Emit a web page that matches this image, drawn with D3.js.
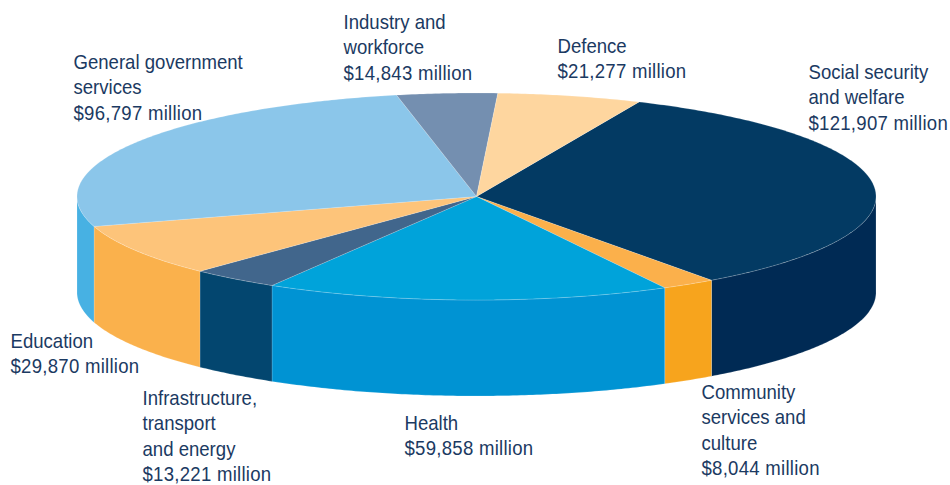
<!DOCTYPE html>
<html>
<head>
<meta charset="utf-8">
<script src="https://d3js.org/d3.v7.min.js"></script>
<style>
  html, body { margin: 0; padding: 0; background: #fff; }
  svg { display: block; }
  .label { font-family: "Liberation Sans", sans-serif; font-size: 21px; fill: #1b3a62; }
  .amount { letter-spacing: 0.3px; }
</style>
</head>
<body>
<svg id="chart" width="950" height="485"></svg>
<script>
// Values in $ million, clockwise from the start of Social security
var categories = ['Social security and welfare', 'Community services and culture', 'Health',
  'Infrastructure, transport and energy', 'Education', 'General government services',
  'Industry and workforce', 'Defence'];
var values = [121907, 8044, 59858, 13221, 29870, 96797, 14843, 21277];
var topColors = ['#033a63', '#fbb04b', '#00a3da', '#41668c', '#fdc47a', '#8bc6ea', '#748fb0', '#fed69f'];
var sideColors = ['#002a54', '#f7a41d', '#0093d3', '#03466f', '#fab14c', '#47b1e3', '#748fb0', '#fed69f'];
var labelLines = [
  ['Social security', 'and welfare', '$121,907 million'],
  ['Community', 'services and', 'culture', '$8,044 million'],
  ['Health', '$59,858 million'],
  ['Infrastructure,', 'transport', 'and energy', '$13,221 million'],
  ['Education', '$29,870 million'],
  ['General government', 'services', '$96,797 million'],
  ['Industry and', 'workforce', '$14,843 million'],
  ['Defence', '$21,277 million']
];
// where each label block starts: x and first baseline
var labelPos = [[808.5, 79], [701.5, 399], [404.5, 430], [142.5, 405], [10.5, 348], [73.5, 69], [343.5, 29], [557.5, 53]];
var lineStep = 25.4;
var textSqueeze = 0.885; // no condensed face installed, so narrow the regular one

var svg = d3.select('#chart');
var cx = 476.5, cy = 196.5, rx = 399.5, ry = 103.5, depth = 96;
var startDeg = 24;

var x = d3.scaleLinear().domain([-1, 1]).range([cx - rx, cx + rx]);
var y = d3.scaleLinear().domain([-1, 1]).range([cy - ry, cy + ry]);

var pie = d3.pie().sort(null)
  .startAngle(startDeg * Math.PI / 180)
  .endAngle((startDeg + 360) * Math.PI / 180);
var slices = pie(values);

// angle is measured clockwise from the top of the ellipse
function rim(a0, a1, drop) {
  var n = Math.max(2, Math.ceil((a1 - a0) / 0.01));
  return d3.range(n + 1).map(function(i) {
    var a = a0 + (a1 - a0) * i / n;
    return [x(Math.sin(a)), y(-Math.cos(a)) + drop];
  });
}
var line = d3.line();

// side walls, only the front half of the rim shows
var frontStart = Math.PI / 2, frontEnd = Math.PI * 3 / 2;
svg.append('g').selectAll('path')
  .data(slices.filter(function(d) { return d.endAngle > frontStart && d.startAngle < frontEnd; }))
  .enter().append('path')
  .attr('d', function(d) {
    var a0 = Math.max(d.startAngle, frontStart), a1 = Math.min(d.endAngle, frontEnd);
    return line(rim(a0, a1, 0).concat(rim(a0, a1, depth).reverse())) + 'Z';
  })
  .attr('fill', function(d) { return sideColors[d.index]; })
  .attr('stroke', '#fff').attr('stroke-opacity', 0.35).attr('stroke-width', 0.5);

// top face
svg.append('g').selectAll('path')
  .data(slices)
  .enter().append('path')
  .attr('d', function(d) {
    return line([[x(0), y(0)]].concat(rim(d.startAngle, d.endAngle, 0))) + 'Z';
  })
  .attr('fill', function(d) { return topColors[d.index]; })
  .attr('stroke', '#fff').attr('stroke-opacity', 0.35).attr('stroke-width', 0.5);

// labels
var labels = svg.append('g').selectAll('text')
  .data(labelLines)
  .enter().append('text')
  .attr('class', 'label')
  .attr('transform', function(d, i) {
    return 'translate(' + labelPos[i][0] + ',' + labelPos[i][1] + ') scale(' + textSqueeze + ',1)';
  });
labels.selectAll('tspan')
  .data(function(d) { return d; })
  .enter().append('tspan')
  .attr('x', 0)
  .attr('y', function(d, i) { return i * lineStep; })
  .attr('class', function(d) { return d.charAt(0) == '$' ? 'amount' : null; })
  .text(function(d) { return d; });
</script>
</body>
</html>
